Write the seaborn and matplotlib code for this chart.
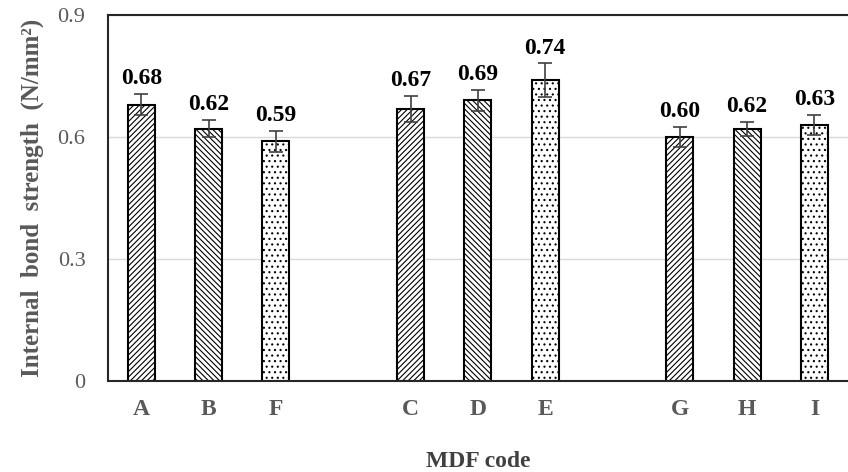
import matplotlib
matplotlib.use("Agg")
import matplotlib.pyplot as plt
import seaborn as sns
import pandas as pd

# MDF samples, grouped in threes with a gap between groups
codes = ['A', 'B', 'F', 'C', 'D', 'E', 'G', 'H', 'I']
positions = [0, 1, 2, 4, 5, 6, 8, 9, 10]
strength = [0.68, 0.62, 0.59, 0.67, 0.69, 0.74, 0.60, 0.62, 0.63]
errors = [0.025, 0.021, 0.026, 0.032, 0.025, 0.041, 0.024, 0.017, 0.025]
hatches = ['//////', '\\\\\\\\\\\\', '...'] * 3

df = pd.DataFrame({'pos': positions, 'code': codes, 'ib': strength, 'err': errors})

sns.set_style("white")
plt.rcParams['font.family'] = ['Liberation Serif', 'DejaVu Serif']
plt.rcParams['hatch.color'] = 'black'
plt.rcParams['hatch.linewidth'] = 0.8

fig = plt.figure(figsize=(8.48, 4.72), dpi=100)
ax = fig.add_axes([0.127, 0.193, 0.873, 0.775])

sns.barplot(data=df, x='pos', y='ib', native_scale=True, width=0.4,
            color='white', edgecolor='black', linewidth=1.5, errorbar=None, ax=ax)

for bar, h in zip(ax.containers[0], hatches):
    bar.set_hatch(h)
    bar.set_facecolor('white')

ax.errorbar(df['pos'], df['ib'], yerr=df['err'], fmt='none', ecolor='#404040',
            elinewidth=1.2, capsize=5, capthick=1.2, zorder=5)

# value labels
for x, v, e in zip(df['pos'], df['ib'], df['err']):
    ax.text(x, v + e + 0.012, f"{v:.2f}", ha='center', va='bottom',
            fontsize=17, fontweight='bold', color='black')

ax.set_xlim(-0.5, 10.5)
ax.set_ylim(0, 0.9)
ax.set_yticks([0, 0.3, 0.6, 0.9])
ax.set_yticklabels(['0', '0.3', '0.6', '0.9'])
ax.set_xticks(positions)
ax.set_xticklabels(codes)
ax.yaxis.grid(True, color='#d9d9d9', linewidth=1)
ax.set_axisbelow(True)

ax.tick_params(axis='y', labelsize=16, labelcolor='#595959', length=0, pad=16)
ax.tick_params(axis='x', labelsize=17, labelcolor='#595959', length=0, pad=13)
for lab in ax.get_xticklabels():
    lab.set_fontweight('bold')

ax.set_xlabel('MDF code', fontsize=17, fontweight='bold', color='#404040', labelpad=22)
ax.set_ylabel('Internal  bond  strength  (N/mm²)', fontsize=18,
              fontweight='bold', color='#595959', labelpad=10)

for side in ['left', 'top', 'bottom']:
    ax.spines[side].set_color('#262626')
    ax.spines[side].set_linewidth(1.5)
ax.spines['right'].set_visible(False)

fig.savefig('out.png', dpi=100)
